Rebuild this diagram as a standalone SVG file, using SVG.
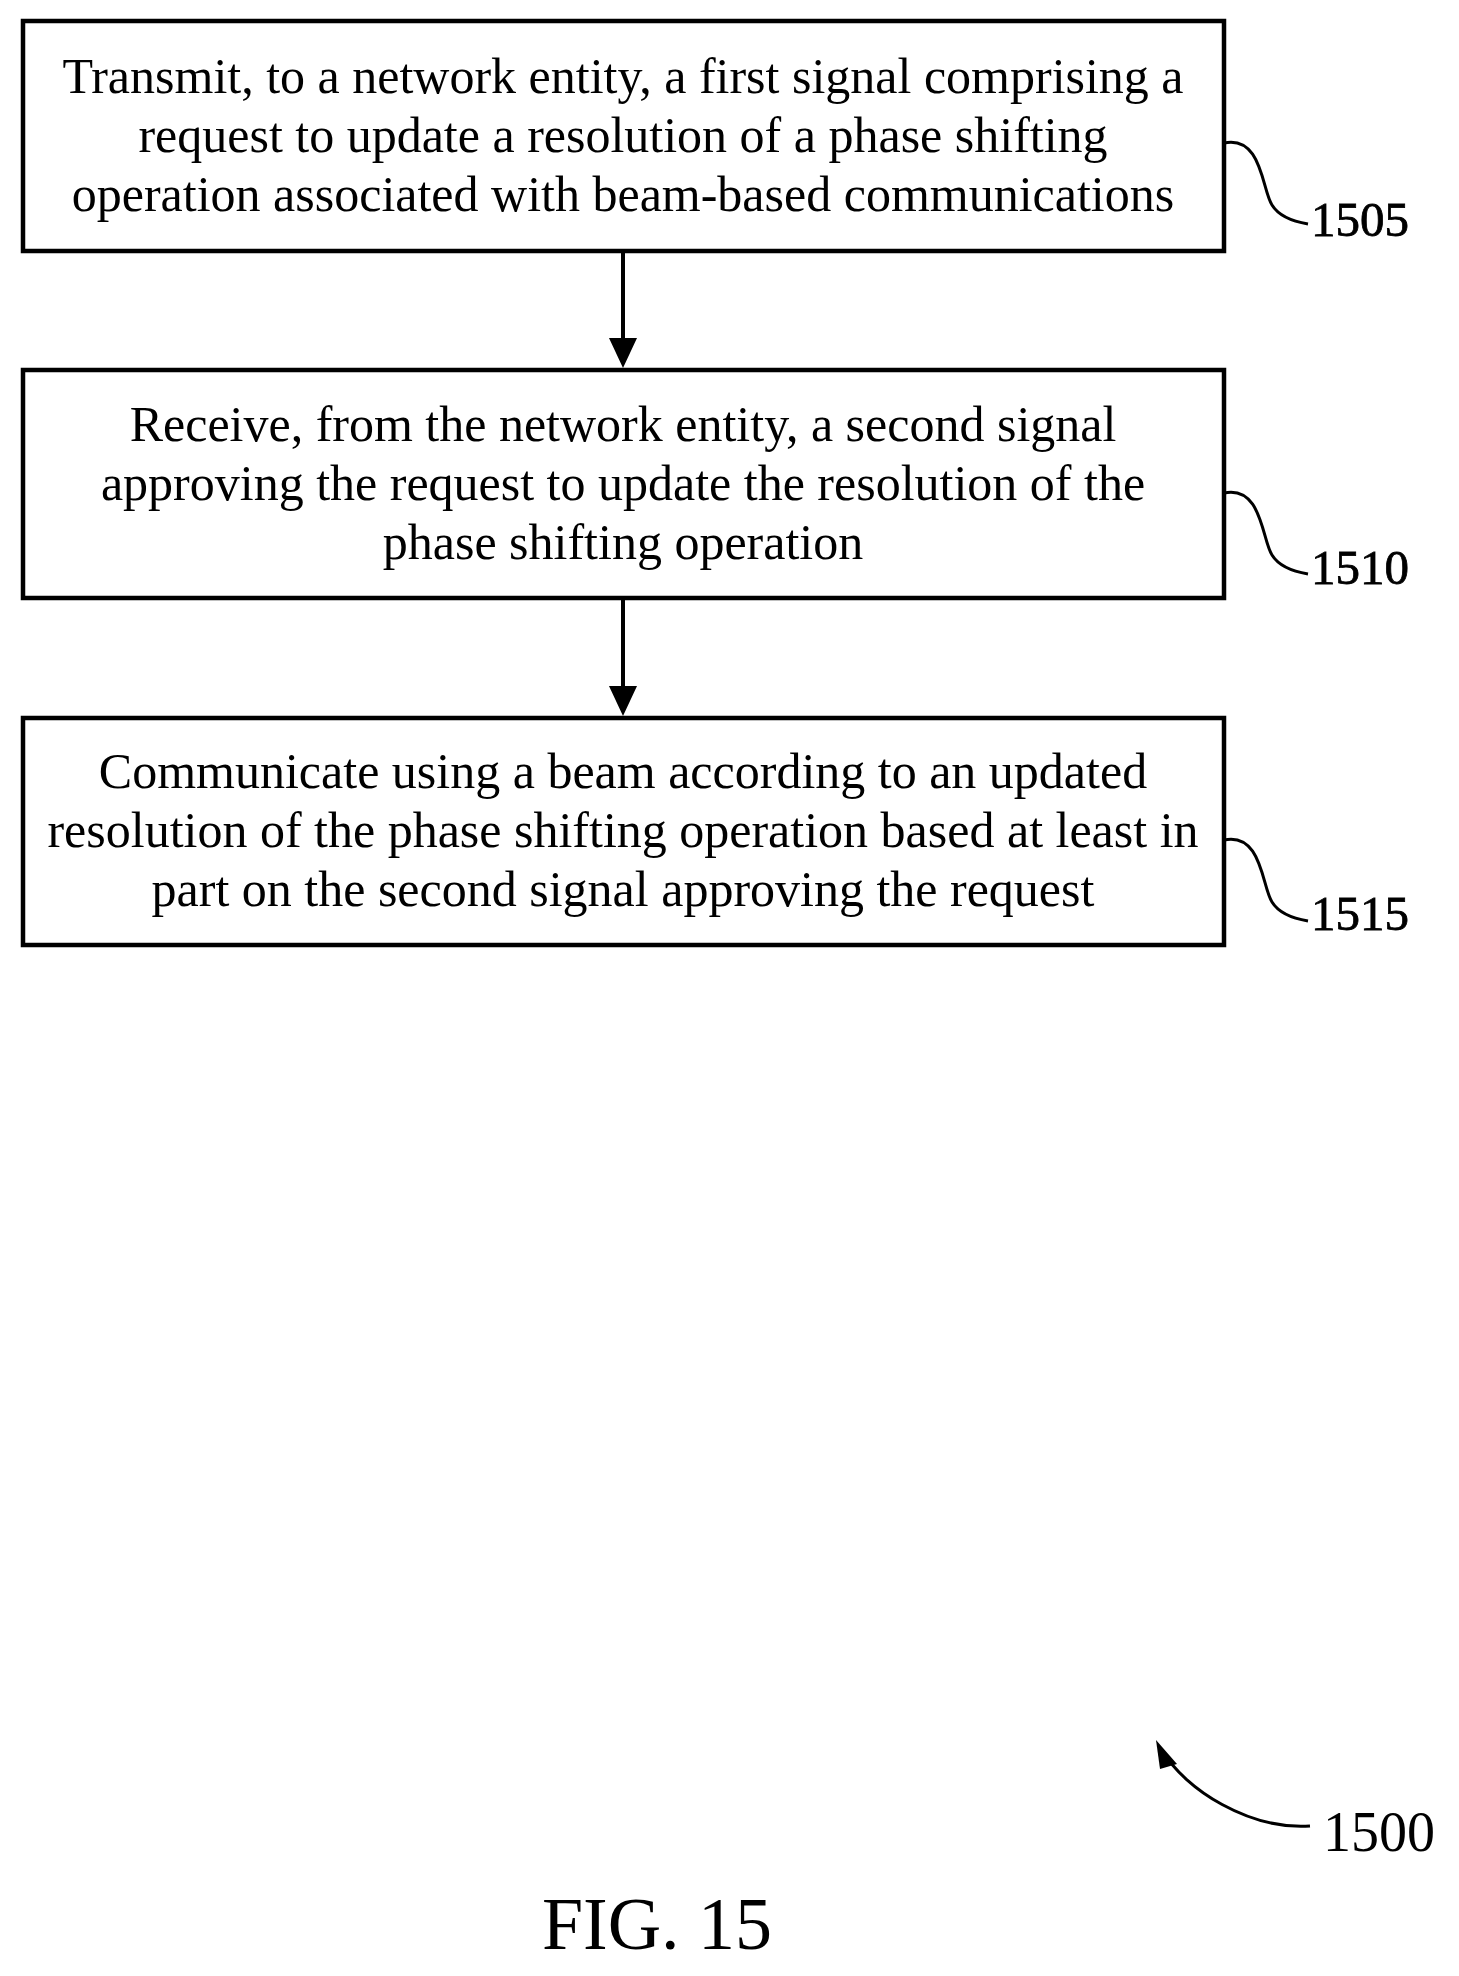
<svg xmlns="http://www.w3.org/2000/svg" width="1459" height="1976" viewBox="0 0 1459 1976">
<style>
.box{fill:#fff;stroke:#000;stroke-width:4.5}
.t{font-family:"Liberation Serif",serif;font-size:50px;text-anchor:middle;fill:#000}
.lbl{font-family:"Liberation Serif",serif;font-size:49px;fill:#000;stroke:#000;stroke-width:0.8}
.ln{fill:none;stroke:#000;stroke-width:3}
</style>
<rect width="1459" height="1976" fill="#fff"/>
<g id="n1505"><rect class="box" x="23" y="21" width="1201" height="230"/>
<text class="t" x="623" y="93">Transmit, to a network entity, a first signal comprising a</text>
<text class="t" x="623" y="152">request to update a resolution of a phase shifting</text>
<text class="t" x="623" y="211">operation associated with beam-based communications</text>
<path class="ln" d="M1224,143 C1262,135 1262,190 1272,205 C1280,218 1296,222 1308,224"/>
<text class="lbl" x="1311" y="236">1505</text></g>
<g id="n1510"><rect class="box" x="23" y="370" width="1201" height="228"/>
<text class="t" x="623" y="441">Receive, from the network entity, a second signal</text>
<text class="t" x="623" y="500">approving the request to update the resolution of the</text>
<text class="t" x="623" y="559">phase shifting operation</text>
<path class="ln" d="M1224,493 C1262,485 1262,540 1272,555 C1280,568 1296,572 1308,574"/>
<text class="lbl" x="1311" y="584">1510</text></g>
<g id="n1515"><rect class="box" x="23" y="718" width="1201" height="227"/>
<text class="t" x="623" y="788">Communicate using a beam according to an updated</text>
<text class="t" x="623" y="847">resolution of the phase shifting operation based at least in</text>
<text class="t" x="623" y="906">part on the second signal approving the request</text>
<path class="ln" d="M1224,840 C1262,832 1262,887 1272,902 C1280,915 1296,919 1308,921"/>
<text class="lbl" x="1311" y="930">1515</text></g>
<g id="connectors">
<path d="M623,251 V345" stroke="#000" stroke-width="4"/><path d="M609,338 L637,338 L623,368 Z"/>
<path d="M623,598 V693" stroke="#000" stroke-width="4"/><path d="M609,686 L637,686 L623,716 Z"/>
</g>
<g id="n1500">
<path class="ln" d="M1310,1826 C1250,1830 1185,1790 1162,1750"/>
<path d="M1156,1740 L1177,1764 L1160,1769 Z"/>
<text x="1323" y="1851" style="font-family:'Liberation Serif',serif;font-size:56px">1500</text>
</g>
<text x="657" y="1949" style="font-family:'Liberation Serif',serif;font-size:74px;text-anchor:middle">FIG. 15</text>
</svg>
